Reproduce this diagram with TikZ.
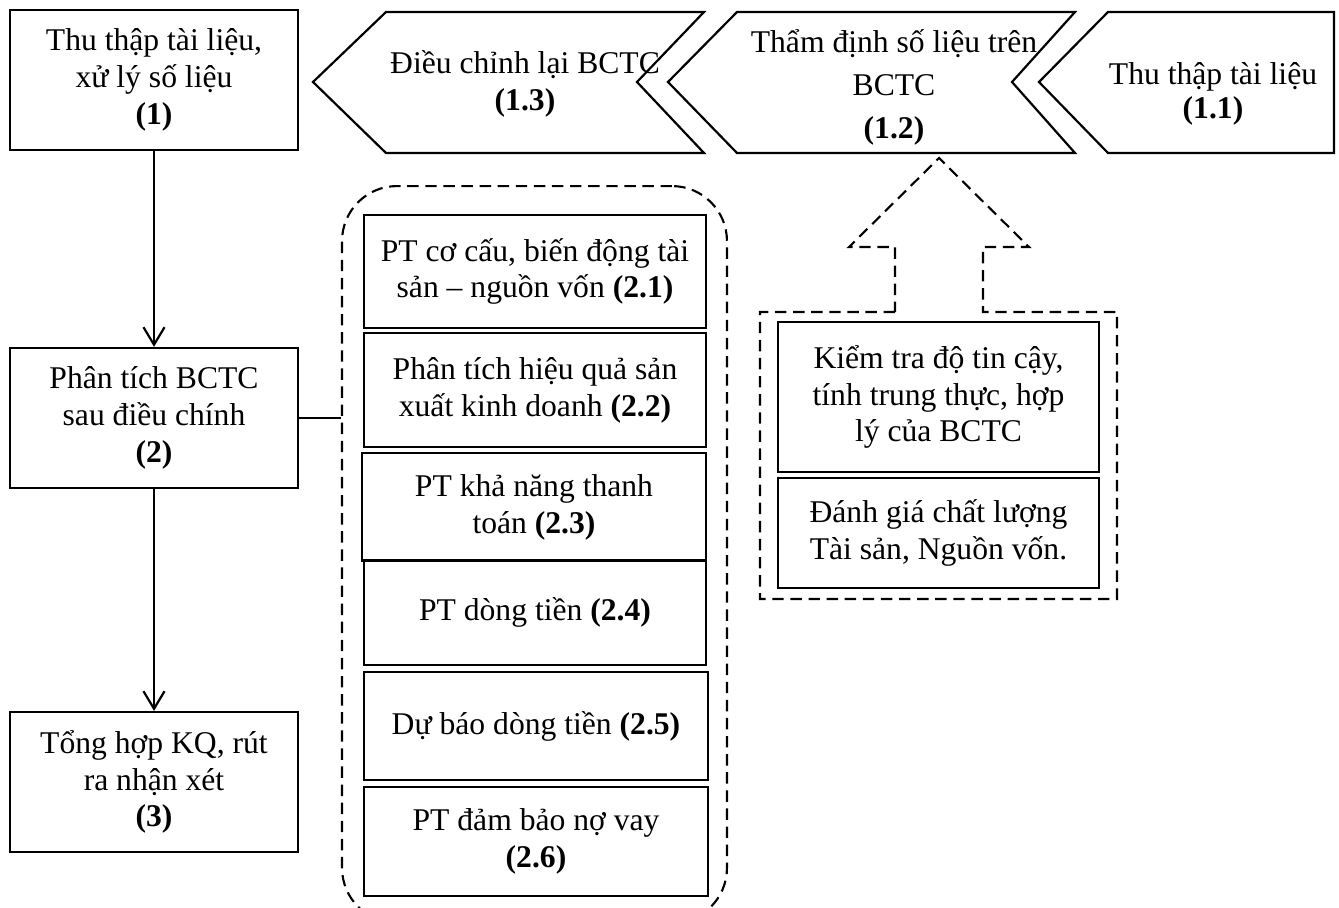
\documentclass[tikz,border=0pt]{standalone}
\usepackage{fontspec}
\setmainfont{Liberation Serif}
\usepackage{tikz}
\usetikzlibrary{arrows.meta}
\tikzset{stagebox/.style={draw,line width=1.25pt,align=center,inner sep=2pt,
                          font=\fontsize{18pt}{21pt}\selectfont},
         chevtext/.style={align=center,inner sep=0pt,font=\fontsize{18pt}{21pt}\selectfont},
         dashline/.style={line width=1.2pt,dash pattern=on 6.5pt off 3.8pt},
         flowarrow/.style={line width=1.25pt,-{Straight Barb[length=10pt,width=12pt]}}}

\begin{document}
\begin{tikzpicture}[x=0.02cm,y=-0.02cm]
\useasboundingbox (0,0) rectangle (1339,908);
\node[stagebox,minimum width=5.76cm,minimum height=2.8cm] (n1) at (154,80) {Thu thập tài liệu,\\xử lý số liệu\\\textbf{(1)}};
\node[stagebox,minimum width=5.76cm,minimum height=2.8cm] (n2) at (154,418) {Phân tích BCTC\\sau điều chính\\\textbf{(2)}};
\node[stagebox,minimum width=5.76cm,minimum height=2.8cm] (n3) at (154,782) {Tổng hợp KQ, rút\\ra nhận xét\\\textbf{(3)}};
\draw[flowarrow] (n1.south) -- (n2.north);
\draw[flowarrow] (n2.south) -- (n3.north);
\draw[line width=1.25pt,line join=miter] (386,12) -- (704,12) -- (637,82) -- (704,153) -- (386,153) -- (313,82) -- cycle;
\draw[line width=1.25pt,line join=miter] (737,12) -- (1075,12) -- (1012,82) -- (1075,153) -- (737,153) -- (668,82) -- cycle;
\draw[line width=1.25pt,line join=miter] (1108,12) -- (1334,12) -- (1334,153) -- (1108,153) -- (1039,82) -- cycle;
\node[chevtext] (t13) at (525,84) {Điều chỉnh lại BCTC\\\textbf{(1.3)}};
\node[chevtext,font=\fontsize{18pt}{24.5pt}\selectfont] (t12) at (894,87) {Thẩm định số liệu trên\\BCTC\\\textbf{(1.2)}};
\node[chevtext,font=\fontsize{18pt}{19.5pt}\selectfont] (t11) at (1213,94) {Thu thập tài liệu\\\textbf{(1.1)}};
\node[draw,dashline,rounded corners=1.1cm,minimum width=7.7cm,minimum height=14.74cm] (grp) at (534.5,554.5) {};
\draw[line width=1.25pt] (n2.east) -- (n2.east -| grp.west);
\node[stagebox,minimum width=6.84cm,minimum height=2.26cm] (n21) at (535,271.5) {PT cơ cấu, biến động tài\\sản – nguồn vốn \textbf{(2.1)}};
\node[stagebox,minimum width=6.84cm,minimum height=2.28cm] (n22) at (535,390) {Phân tích hiệu quả sản\\xuất kinh doanh \textbf{(2.2)}};
\node[stagebox,minimum width=6.88cm,minimum height=2.16cm] (n23) at (534,507) {PT khả năng thanh\\toán \textbf{(2.3)}};
\node[stagebox,minimum width=6.84cm,minimum height=2.1cm] (n24) at (535,612.5) {PT dòng tiền \textbf{(2.4)}};
\node[stagebox,minimum width=6.88cm,minimum height=2.16cm] (n25) at (536,726) {Dự báo dòng tiền \textbf{(2.5)}};
\node[stagebox,minimum width=6.88cm,minimum height=2.18cm] (n26) at (536,841.5) {PT đảm bảo nợ vay\\\textbf{(2.6)}};
\draw[dashline] (895,312) -- (760,312) -- (760,599) -- (1117,599) -- (1117,312) -- (983,312) -- (983,247) -- (1029,247) -- (939,158) -- (849,247) -- (895,247) -- cycle;
\node[stagebox,minimum width=6.42cm,minimum height=3cm] (chk) at (938.5,397) {Kiểm tra độ tin cậy,\\tính trung thực, hợp\\lý của BCTC};
\node[stagebox,minimum width=6.42cm,minimum height=2.2cm] (qual) at (938.5,533) {Đánh giá chất lượng\\Tài sản, Nguồn vốn.};
\end{tikzpicture}
\end{document}
